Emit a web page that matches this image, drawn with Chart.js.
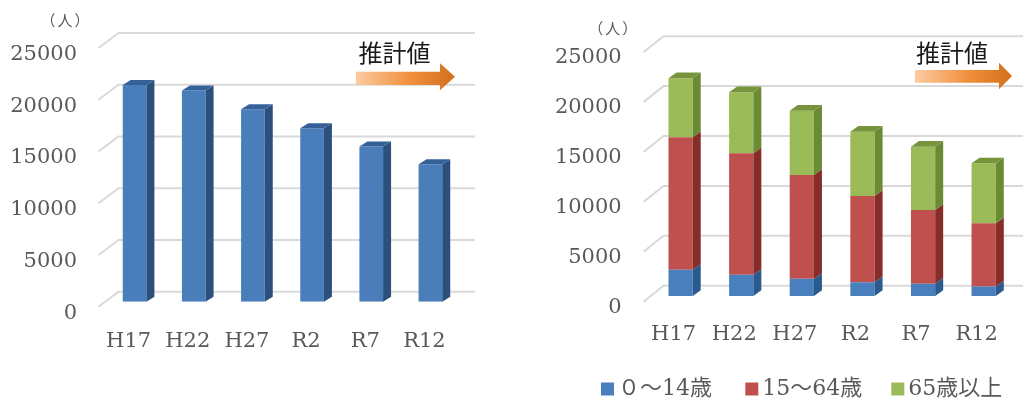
<!DOCTYPE html>
<html lang="ja">
<head>
<meta charset="UTF-8">
<title>人口の推移</title>
<script src="https://cdn.jsdelivr.net/npm/chart.js"></script>
<style>
  html, body { margin: 0; padding: 0; background: #fff; }
  #wrap { position: relative; width: 1023px; height: 400px; overflow: hidden; }
  #wrap canvas { position: absolute; top: 0; }
  #total { left: 0; }
  #byAge { left: 512px; }
</style>
</head>
<body>
<div id="wrap">
  <canvas id="total" width="512" height="400"></canvas>
  <canvas id="byAge" width="511" height="400"></canvas>
</div>
<script>
const categories = ['H17', 'H22', 'H27', 'R2', 'R7', 'R12'];
const totalPop = [20950, 20400, 18600, 16770, 14990, 13290];
const age0to14 = [2620, 2120, 1720, 1390, 1220, 950];
const age15to64 = [13280, 12180, 10400, 8630, 7400, 6330];
const age65plus = [5920, 6110, 6450, 6450, 6340, 6010];
const seriesLabels = ['０～14歳', '15～64歳', '65歳以上'];
const yMax = 25000;
const yStep = 5000;
const unitLabel = '（人）';
const estimateLabel = '推計値';

const GREY = '#595959';
const SERIF = '"DejaVu Serif", "Noto Sans CJK JP", serif';

// fake 3D: back wall gridlines + side and top faces of the bars
const wall3d = {
  id: 'wall3d',
  beforeDatasetsDraw(chart, args, o) {
    const { ctx, chartArea } = chart;
    const y = chart.scales.y;
    ctx.save();
    ctx.strokeStyle = '#d9d9d9';
    ctx.lineWidth = 2;
    y.ticks.forEach(t => {
      const py = y.getPixelForValue(t.value);
      ctx.beginPath();
      ctx.moveTo(chartArea.left + o.frontDx, py + o.frontDy);
      ctx.lineTo(chartArea.left + o.backDx, py - o.backDy);
      ctx.lineTo(o.lineEnd, py - o.backDy);
      ctx.stroke();
    });
    ctx.restore();
  },
  afterDatasetsDraw(chart, args, o) {
    const ctx = chart.ctx;
    const last = chart.data.datasets.length - 1;
    ctx.save();
    chart.data.datasets.forEach((ds, i) => {
      chart.getDatasetMeta(i).data.forEach(bar => {
        const { x, y, base, width } = bar.getProps(['x', 'y', 'base', 'width'], true);
        const l = x - width / 2, r = x + width / 2;
        ctx.fillStyle = ds.sideColor;
        ctx.beginPath();
        ctx.moveTo(r, y);
        ctx.lineTo(r + o.dx, y - o.dy);
        ctx.lineTo(r + o.dx, base - o.dy);
        ctx.lineTo(r, base);
        ctx.closePath();
        ctx.fill();
        if (i === last) {
          ctx.fillStyle = ds.topColor;
          ctx.beginPath();
          ctx.moveTo(l, y);
          ctx.lineTo(l + o.dx, y - o.dy);
          ctx.lineTo(r + o.dx, y - o.dy);
          ctx.lineTo(r, y);
          ctx.closePath();
          ctx.fill();
        }
      });
    });
    ctx.restore();
  }
};

// unit label, "推計値", the gradient arrow and (optionally) the legend row
const notes = {
  id: 'notes',
  afterDraw(chart, args, o) {
    const ctx = chart.ctx;
    ctx.save();
    ctx.textAlign = 'center';
    ctx.textBaseline = 'middle';
    ctx.fillStyle = GREY;
    ctx.font = '15px "Noto Sans CJK JP"';
    ctx.letterSpacing = '2px';
    ctx.fillText(unitLabel, o.unitX, o.unitY);
    ctx.letterSpacing = '0px';
    ctx.fillStyle = '#1a1a1a';
    ctx.font = '24px "Noto Sans CJK JP"';
    ctx.fillText(estimateLabel, o.textX, o.textY);

    const a = o.arrow;
    const g = ctx.createLinearGradient(a.x0, 0, a.tip, 0);
    g.addColorStop(0, '#fccba0');
    g.addColorStop(0.55, '#f08f3c');
    g.addColorStop(1, '#d36f1d');
    ctx.fillStyle = g;
    ctx.beginPath();
    ctx.moveTo(a.x0, a.y0);
    ctx.lineTo(a.x1, a.y0);
    ctx.lineTo(a.x1, a.hy0);
    ctx.lineTo(a.tip, (a.hy0 + a.hy1) / 2);
    ctx.lineTo(a.x1, a.hy1);
    ctx.lineTo(a.x1, a.y1);
    ctx.lineTo(a.x0, a.y1);
    ctx.closePath();
    ctx.fill();

    if (o.legendX) {
      ctx.textAlign = 'left';
      ctx.font = '22px ' + SERIF;
      chart.data.datasets.forEach((ds, i) => {
        const bx = o.legendX[i];
        ctx.fillStyle = ds.backgroundColor;
        ctx.fillRect(bx, o.legendY - 6.5, 13, 13);
        ctx.fillStyle = GREY;
        ctx.fillText(ds.label, bx + 17, o.legendY);
      });
    }
    ctx.restore();
  }
};

function axes(yWidth, yPad, xHeight, xPad, xShift, stacked) {
  return {
    x: {
      stacked: stacked,
      grid: { display: false },
      border: { display: false },
      ticks: { color: GREY, font: { family: SERIF, size: 21 }, padding: xPad, labelOffset: xShift, maxRotation: 0 },
      afterFit: s => { s.height = xHeight; }
    },
    y: {
      stacked: stacked,
      min: 0,
      max: yMax,
      grid: { display: false, drawTicks: false },
      border: { display: false },
      ticks: {
        stepSize: yStep, color: GREY, font: { family: SERIF, size: 21 },
        padding: yPad, labelOffset: 11.5, callback: v => String(v)
      },
      afterFit: s => { s.width = yWidth; }
    }
  };
}

new Chart(document.getElementById('total'), {
  type: 'bar',
  data: {
    labels: categories,
    datasets: [{
      label: '人口',
      data: totalPop,
      backgroundColor: '#4a7ebb',
      sideColor: '#2d4f7b',
      topColor: '#35609a',
      barPercentage: 0.4,
      categoryPercentage: 1
    }]
  },
  options: {
    responsive: false,
    animation: false,
    layout: { padding: { top: 43, right: 52, bottom: 0, left: 0 } },
    scales: axes(105, 28, 98.3, 19, -6, false),
    plugins: {
      legend: { display: false },
      tooltip: { enabled: false },
      wall3d: { dx: 8, dy: 5, frontDx: -6.5, frontDy: 5, backDx: 13.5, backDy: 10, lineEnd: 475 },
      notes: {
        unitX: 66, unitY: 20, textX: 394.5, textY: 53,
        arrow: { x0: 356, x1: 440, tip: 455, y0: 71.7, y1: 85, hy0: 63.3, hy1: 90.3 }
      }
    }
  },
  plugins: [wall3d, notes]
});

new Chart(document.getElementById('byAge'), {
  type: 'bar',
  data: {
    labels: categories,
    datasets: [
      { label: seriesLabels[0], data: age0to14, backgroundColor: '#4a7fbd', sideColor: '#2b5a8e', topColor: '#3a6ea8' },
      { label: seriesLabels[1], data: age15to64, backgroundColor: '#c0504d', sideColor: '#862d2a', topColor: '#a03d3a' },
      { label: seriesLabels[2], data: age65plus, backgroundColor: '#9bbb59', sideColor: '#6a8a34', topColor: '#76943c' }
    ].map(d => Object.assign(d, { barPercentage: 0.4, categoryPercentage: 1 }))
  },
  options: {
    responsive: false,
    animation: false,
    layout: { padding: { top: 46.5, right: 6.7, bottom: 0, left: 0 } },
    scales: axes(138.3, 28.6, 104, 17.5, -7, true),
    plugins: {
      legend: { display: false },
      tooltip: { enabled: false },
      wall3d: { dx: 8, dy: 5.7, frontDx: -6.8, frontDy: 5.7, backDx: 13.2, backDy: 10.3, lineEnd: 511 },
      notes: {
        unitX: 101.7, unitY: 28.3, textX: 440, textY: 53,
        arrow: { x0: 403, x1: 487, tip: 500, y0: 70, y1: 82.7, hy0: 62.7, hy1: 89.3 },
        legendX: [89, 233.3, 379.3], legendY: 389
      }
    }
  },
  plugins: [wall3d, notes]
});
</script>
</body>
</html>
